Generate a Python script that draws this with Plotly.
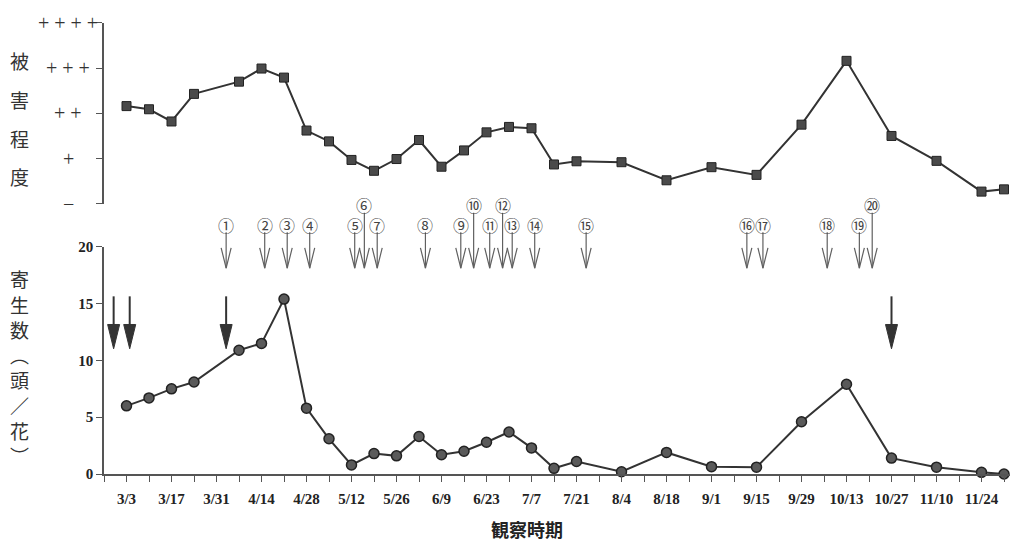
import datetime as dt
import plotly.graph_objects as go

# ---------------- data ----------------
obs_dates = ["3-3", "3-10", "3-17", "3-24", "4-7", "4-14", "4-21", "4-28", "5-5",
             "5-12", "5-19", "5-26", "6-2", "6-9", "6-16", "6-23", "6-30", "7-7",
             "7-14", "7-21", "8-4", "8-18", "9-1", "9-15", "9-29", "10-13", "10-27",
             "11-10", "11-24", "12-1"]
damage_level = [2.16, 2.09, 1.82, 2.43, 2.70, 2.99, 2.79, 1.62, 1.38,
                0.97, 0.73, 0.99, 1.41, 0.82, 1.18, 1.58, 1.70, 1.67,
                0.87, 0.94, 0.92, 0.52, 0.81, 0.64, 1.75, 3.16, 1.50,
                0.95, 0.27, 0.32]
parasite_count = [6.0, 6.7, 7.5, 8.1, 10.9, 11.5, 15.4, 5.8, 3.1,
                  0.8, 1.8, 1.6, 3.3, 1.7, 2.0, 2.8, 3.7, 2.3,
                  0.5, 1.1, 0.2, 1.9, 0.65, 0.6, 4.6, 7.9, 1.4,
                  0.6, 0.15, 0.0]
spray_dates = ["4-3", "4-15", "4-22", "4-29", "5-13", "5-16", "5-20", "6-4", "6-15",
               "6-19", "6-24", "6-28", "7-1", "7-8", "7-24", "9-12", "9-17", "10-7",
               "10-17", "10-21"]
release_dates = ["2-27", "3-4", "4-3", "10-27"]
x_tick_labels = ["3/3", "3/17", "3/31", "4/14", "4/28", "5/12", "5/26", "6/9", "6/23",
                 "7/7", "7/21", "8/4", "8/18", "9/1", "9/15", "9/29", "10/13",
                 "10/27", "11/10", "11/24"]
damage_labels = ["−", "+", "+ +", "+ + +", "+ + + +"]
count_ticks = [0, 5, 10, 15, 20]
title_damage = "被害程度"
title_count = "寄生数︵頭／花︶"
title_x = "観察時期"


def doy(s):
    m, d = s.replace("/", "-").split("-")
    return dt.date(2001, int(m), int(d)).timetuple().tm_yday


obs_x = [doy(s) for s in obs_dates]
spray_x = [doy(s) for s in spray_dates]
release_x = [doy(s) for s in release_dates]
tick_x = [doy(s) for s in x_tick_labels]

# ---------------- layout helpers ----------------
W, H = 1010, 549
X0_PX, X1_PX = 104, 1010
DAY_PX = 22.5 / 7
X_START = doy("3-3") - 7
X_END = X_START + (X1_PX - X0_PX) / DAY_PX


def py(p):
    return 1 - p / H


def dx(px):
    return px / DAY_PX


LINE = "#333333"
GRAY = "#606060"

fig = go.Figure()

fig.add_trace(go.Scatter(
    x=obs_x, y=damage_level, xaxis="x", yaxis="y2", mode="lines+markers",
    line=dict(color=LINE, width=2),
    marker=dict(symbol="square", size=9, color="#4a4a4a", line=dict(color="#222", width=1)),
    cliponaxis=False, showlegend=False, hoverinfo="skip"))

fig.add_trace(go.Scatter(
    x=obs_x, y=parasite_count, xaxis="x", yaxis="y", mode="lines+markers",
    line=dict(color=LINE, width=2),
    marker=dict(symbol="circle", size=10, color="#5a5a5a", line=dict(color="#222", width=1.5)),
    cliponaxis=False, showlegend=False, hoverinfo="skip"))

shapes = []
annotations = []

# hollow (spray) arrows with circled numbers
raised = {6, 10, 12, 20}
for i, x in enumerate(spray_x, start=1):
    top_c = 203 if i in raised else 223
    tip = 268
    shapes.append(dict(type="line", xref="x", yref="paper", x0=x, x1=x,
                       y0=py(top_c + 8), y1=py(tip), line=dict(color=GRAY, width=1.2)))
    h = dx(5)
    shapes.append(dict(type="path", xref="x", yref="paper",
                       path=f"M {x - h},{py(247)} L {x},{py(tip)} L {x + h},{py(247)}",
                       line=dict(color=GRAY, width=1.2)))
    annotations.append(dict(text=chr(0x2460 + i - 1), x=x, y=py(top_c), xref="x", yref="paper",
                            showarrow=False, xanchor="center", yanchor="middle",
                            font=dict(family="Noto Sans CJK JP", size=16, color="#444")))

# filled (release) arrows
for x in release_x:
    shapes.append(dict(type="line", xref="x", yref="paper", x0=x, x1=x,
                       y0=py(297), y1=py(330), line=dict(color="#333", width=2)))
    h = dx(6)
    shapes.append(dict(type="path", xref="x", yref="paper",
                       path=f"M {x - h},{py(326)} L {x},{py(351)} L {x + h},{py(326)} Z",
                       fillcolor="#333", line=dict(color="#333", width=1)))

# top axis labels (+ levels), centered
for lvl, lab in enumerate(damage_labels):
    annotations.append(dict(text=lab, x=68 / W, y=lvl, xref="paper", yref="y2",
                            showarrow=False, xanchor="center", yanchor="middle",
                            font=dict(family="Liberation Serif", size=20, color="#333")))

# vertical titles
for k, ch in enumerate(title_damage):
    annotations.append(dict(text=ch, x=19 / W, y=py(54 + 40 * k), xref="paper", yref="paper",
                            showarrow=False, xanchor="center", yanchor="middle",
                            font=dict(family="Noto Sans CJK JP", size=19, color="#333")))
for k, ch in enumerate(title_count):
    annotations.append(dict(text=ch, x=19 / W, y=py(279 + 26 * k), xref="paper", yref="paper",
                            showarrow=False, xanchor="center", yanchor="middle",
                            font=dict(family="Noto Sans CJK JP", size=19, color="#333")))

annotations.append(dict(text=f"<b>{title_x}</b>", x=527 / W, y=py(537), xref="paper", yref="paper",
                        showarrow=False, xanchor="center", yanchor="middle",
                        font=dict(family="Noto Sans CJK JP", size=18, color="#222")))

fig.update_layout(
    width=W, height=H, autosize=False,
    margin=dict(l=0, r=0, t=0, b=0),
    paper_bgcolor="white", plot_bgcolor="white",
    shapes=shapes, annotations=annotations,
    xaxis=dict(domain=[X0_PX / W, 1.0], range=[X_START, X_END], anchor="y",
               showline=True, linecolor="#555", linewidth=1.5,
               ticks="outside", ticklen=6, tickcolor="#555", tickwidth=1.2,
               tickvals=tick_x, ticktext=x_tick_labels, ticklabelstandoff=4,
               tickfont=dict(family="Liberation Serif", size=15, color="#222", weight="bold"),
               minor=dict(ticks="outside", ticklen=6, tickcolor="#555", tickwidth=1.2,
                          tick0=X_START, dtick=7, showgrid=False),
               showgrid=False, zeroline=False),
    yaxis=dict(domain=[py(480), py(246)], range=[0, 20], anchor="x",
               showline=True, linecolor="#555", linewidth=1.5,
               ticks="outside", ticklen=6, tickcolor="#555", tickwidth=1.2,
               tickvals=count_ticks, ticktext=[str(v) for v in count_ticks],
               tickfont=dict(family="Liberation Serif", size=15, color="#222", weight="bold"),
               showgrid=False, zeroline=False),
    yaxis2=dict(domain=[py(201.7), py(15.3)], range=[0, 4], anchor="x",
                showline=True, linecolor="#555", linewidth=1.5,
                ticks="outside", ticklen=6, tickcolor="#555", tickwidth=1.2,
                tickvals=list(range(len(damage_labels))), showticklabels=False,
                showgrid=False, zeroline=False),
)

fig.write_html("out.html", config={"displayModeBar": False},
               post_script="document.body.style.margin='0';document.body.style.overflow='hidden';")
